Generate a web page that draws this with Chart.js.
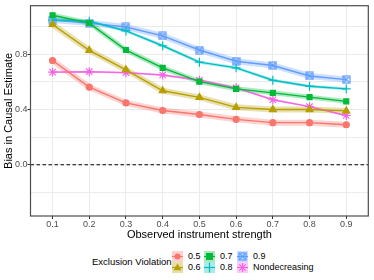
<!DOCTYPE html>
<html>
<head>
<meta charset="utf-8">
<script src="https://cdn.jsdelivr.net/npm/chart.js@4"></script>
<style>
  html, body { margin: 0; padding: 0; background: #fff; }
  body { width: 374px; height: 280px; position: relative; overflow: hidden; font-family: 'Liberation Sans', Arial, sans-serif; }
  #wrap { position: absolute; left: 0; top: 0; width: 374px; height: 242px; }
  .lg-title { position: absolute; left: 92px; top: 256px; font-size: 9.5px; line-height: 11px; color: #000; white-space: nowrap; }
  .lg-key { position: absolute; width: 11px; height: 11px; }
  .lg-lab { position: absolute; font-size: 9px; color: #000; line-height: 11px; white-space: nowrap; }
</style>
</head>
<body>
<div id="wrap"><canvas id="chart" width="374" height="242"></canvas></div>
<div id="legend"></div>
<script>
const strength = [0.1, 0.2, 0.3, 0.4, 0.5, 0.6, 0.7, 0.8, 0.9];
const ev05 = [0.755, 0.562, 0.448, 0.393, 0.364, 0.329, 0.305, 0.305, 0.290];
const ev06 = [1.016, 0.829, 0.688, 0.536, 0.488, 0.416, 0.400, 0.400, 0.390];
const ev07 = [1.083, 1.026, 0.831, 0.702, 0.602, 0.550, 0.521, 0.490, 0.459];
const ev08 = [1.048, 1.040, 0.969, 0.862, 0.743, 0.702, 0.612, 0.569, 0.550];
const ev09 = [1.048, 1.026, 0.998, 0.933, 0.831, 0.750, 0.719, 0.643, 0.617];
const nondec = [0.671, 0.674, 0.667, 0.650, 0.612, 0.557, 0.471, 0.421, 0.357];
const yTicks = [-0.2, 0.0, 0.2, 0.4, 0.6, 0.8, 1.0];
const yLabelled = [0.0, 0.4, 0.8];

// open square with an X inside (ggplot shape 7)
function squareCross(color, size) {
  const c = document.createElement('canvas');
  c.width = size; c.height = size;
  const g = c.getContext('2d');
  g.strokeStyle = color; g.lineWidth = 1.2;
  g.strokeRect(1, 1, size - 2, size - 2);
  g.beginPath();
  g.moveTo(1.5, 1.5); g.lineTo(size - 1.5, size - 1.5);
  g.moveTo(size - 1.5, 1.5); g.lineTo(1.5, size - 1.5);
  g.stroke();
  return c;
}

const SERIES = [
  { label: '0.5', data: ev05, color: '#F8766D', style: 'circle', r: 3, ribbon: 6 },
  { label: '0.6', data: ev06, color: '#B79F00', style: 'triangle', r: 4, ribbon: 6 },
  { label: '0.7', data: ev07, color: '#00BA38', style: 'rect', r: 3.5, ribbon: 5 },
  { label: '0.8', data: ev08, color: '#00BFC4', style: 'cross', r: 4.5, ribbon: 3 },
  { label: '0.9', data: ev09, color: '#619CFF', style: squareCross('#619CFF', 9), r: 4.5, ribbon: 6 },
  { label: 'Nondecreasing', data: nondec, color: '#F564E3', style: 'star', r: 4.5, ribbon: 2 }
];

function toPoints(arr) { return arr.map((v, i) => ({ x: strength[i], y: v })); }

const datasets = [];
SERIES.forEach(s => {
  datasets.push({
    label: s.label + ' band', data: toPoints(s.data),
    borderColor: s.color + '50', borderWidth: s.ribbon, pointRadius: 0,
    tension: 0, order: 2
  });
});
SERIES.forEach(s => {
  datasets.push({
    label: s.label, data: toPoints(s.data),
    borderColor: s.color, backgroundColor: s.color, borderWidth: 1.4,
    pointStyle: s.style, pointRadius: s.r, pointBorderWidth: 1.2,
    tension: 0, order: 1
  });
});

const panelPlugin = {
  id: 'panel',
  beforeDatasetsDraw(chart) {
    const { ctx, scales: { y }, chartArea: a } = chart;
    const py = y.getPixelForValue(0);
    ctx.save();
    ctx.strokeStyle = '#000'; ctx.lineWidth = 1; ctx.setLineDash([3.5, 2.5]);
    ctx.beginPath(); ctx.moveTo(a.left, py); ctx.lineTo(a.right, py); ctx.stroke();
    ctx.restore();
  },
  afterDraw(chart) {
    const { ctx, chartArea: a } = chart;
    ctx.save();
    ctx.strokeStyle = '#4d4d4d'; ctx.lineWidth = 1.2;
    ctx.strokeRect(a.left, a.top, a.right - a.left, a.bottom - a.top);
    ctx.restore();
  }
};

const TICK_FONT = { family: "'Liberation Sans', Arial, sans-serif", size: 9 };
const TITLE_FONT = { family: "'Liberation Sans', Arial, sans-serif", size: 11 };

new Chart(document.getElementById('chart').getContext('2d'), {
  type: 'line',
  data: { datasets },
  options: {
    responsive: false,
    animation: false,
    layout: { padding: { top: 3, right: 3, left: 2, bottom: 0 } },
    plugins: { legend: { display: false }, tooltip: { enabled: false } },
    scales: {
      x: {
        type: 'linear', min: 0.04, max: 0.96,
        afterBuildTicks: s => { s.ticks = strength.map(v => ({ value: v })); },
        afterFit: s => { s.height = 26; },
        ticks: { color: '#4d4d4d', font: TICK_FONT, padding: 0, maxRotation: 0, callback: v => v.toFixed(1) },
        grid: { color: '#ebebeb', tickColor: '#333', tickLength: 3 },
        border: { display: false },
        title: { display: true, text: 'Observed instrument strength', color: '#000', font: TITLE_FONT, padding: { top: 0, bottom: 0 } }
      },
      y: {
        type: 'linear', min: -0.371, max: 1.152,
        afterBuildTicks: s => { s.ticks = yTicks.map(v => ({ value: v })); },
        afterFit: s => { s.width = 28.5; },
        ticks: {
          color: '#4d4d4d', font: TICK_FONT, padding: 0,
          callback: v => yLabelled.some(t => Math.abs(t - v) < 1e-6) ? v.toFixed(1) : ''
        },
        grid: {
          color: '#ebebeb', tickLength: 3,
          tickColor: c => yLabelled.some(t => Math.abs(t - c.tick.value) < 1e-6) ? '#333' : 'rgba(0,0,0,0)'
        },
        border: { display: false },
        title: { display: true, text: 'Bias in Causal Estimate', color: '#000', font: TITLE_FONT, padding: { top: 0, bottom: 2 } }
      }
    }
  },
  plugins: [panelPlugin]
});

// legend: title on the left, keys in three columns of two rows
function drawKey(s) {
  const c = document.createElement('canvas');
  c.width = 11; c.height = 11; c.className = 'lg-key';
  const g = c.getContext('2d');
  g.fillStyle = s.color + '55';
  g.fillRect(0, 0, 11, 11);
  g.strokeStyle = s.color; g.fillStyle = s.color; g.lineWidth = 1.2;
  g.beginPath(); g.moveTo(0, 5.5); g.lineTo(11, 5.5); g.stroke();
  const cx = 5.5, cy = 5.5;
  if (s.style === 'circle') { g.beginPath(); g.arc(cx, cy, 3, 0, Math.PI * 2); g.fill(); }
  else if (s.style === 'triangle') { g.beginPath(); g.moveTo(cx, cy - 4); g.lineTo(cx + 4, cy + 2.8); g.lineTo(cx - 4, cy + 2.8); g.closePath(); g.fill(); }
  else if (s.style === 'rect') { g.fillRect(cx - 3.5, cy - 3.5, 7, 7); }
  else if (s.style === 'cross') { g.beginPath(); g.moveTo(cx, 0.5); g.lineTo(cx, 10.5); g.stroke(); }
  else if (s.style === 'star') {
    g.beginPath();
    g.moveTo(cx, cy - 4.5); g.lineTo(cx, cy + 4.5);
    g.moveTo(cx - 3.2, cy - 3.2); g.lineTo(cx + 3.2, cy + 3.2);
    g.moveTo(cx + 3.2, cy - 3.2); g.lineTo(cx - 3.2, cy + 3.2);
    g.stroke();
  } else { g.drawImage(s.style, cx - 4.5, cy - 4.5); }
  return c;
}

const legend = document.getElementById('legend');
const title = document.createElement('div');
title.className = 'lg-title'; title.textContent = 'Exclusion Violation';
legend.appendChild(title);
const colX = [172, 204, 237];
const rowY = [251, 262];
SERIES.forEach((s, i) => {
  const col = Math.floor(i / 2), row = i % 2;
  const key = drawKey(s);
  key.style.left = colX[col] + 'px'; key.style.top = rowY[row] + 'px';
  legend.appendChild(key);
  const lab = document.createElement('div');
  lab.className = 'lg-lab'; lab.textContent = s.label;
  lab.style.left = (colX[col] + 16) + 'px'; lab.style.top = rowY[row] + 'px';
  legend.appendChild(lab);
});
</script>
</body>
</html>
